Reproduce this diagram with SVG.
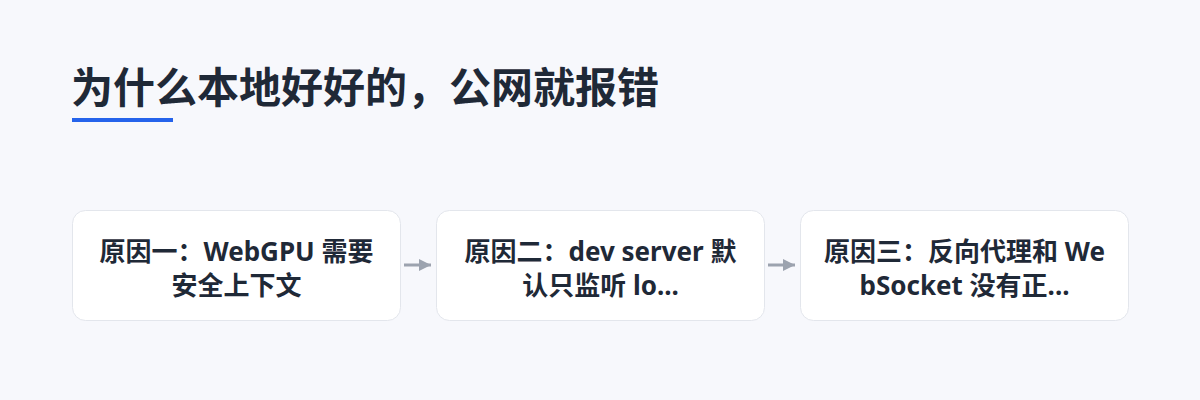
<svg xmlns="http://www.w3.org/2000/svg" width="1200" height="400" viewBox="0 0 1200 400">
<defs>
<style>
.bg{fill:#f7f8fc}
.title{font-family:"Noto Sans","Noto Sans CJK SC",sans-serif;font-weight:700;font-size:42px;fill:#1f2937}
.box{fill:#ffffff;stroke:#e3e6ec;stroke-width:1}
.lbl{font-family:"Noto Sans","Noto Sans CJK SC",sans-serif;font-weight:700;font-size:26px;fill:#1f2937;text-anchor:middle}
.conn{stroke:#9ca3af;stroke-width:3;fill:none}
</style>
<marker id="ah" viewBox="0 0 10 10" refX="10" refY="5" markerWidth="4" markerHeight="4" markerUnits="strokeWidth" orient="auto">
<path d="M0,0 L10,5 L0,10 z" fill="#9ca3af"/>
</marker>
</defs>
<rect class="bg" x="0" y="0" width="1200" height="400"/>
<text class="title" x="71" y="103">为什么本地好好的，公网就报错</text>
<rect x="72" y="118" width="101" height="4" fill="#2563eb"/>
<g id="connectors">
<line class="conn" x1="404" y1="265" x2="431" y2="265" marker-end="url(#ah)"/>
<line class="conn" x1="768" y1="265" x2="795" y2="265" marker-end="url(#ah)"/>
</g>
<g id="node1">
<rect class="box" x="72.5" y="210.5" width="328" height="110" rx="13"/>
<text class="lbl" x="236.5" y="261">原因一：WebGPU 需要</text>
<text class="lbl" x="236.5" y="295">安全上下文</text>
</g>
<g id="node2">
<rect class="box" x="436.5" y="210.5" width="328" height="110" rx="13"/>
<text class="lbl" x="600.5" y="261">原因二：dev server 默</text>
<text class="lbl" x="600.5" y="295">认只监听 lo...</text>
</g>
<g id="node3">
<rect class="box" x="800.5" y="210.5" width="328" height="110" rx="13"/>
<text class="lbl" x="964.5" y="261">原因三：反向代理和 We</text>
<text class="lbl" x="964.5" y="295">bSocket 没有正...</text>
</g>
</svg>
